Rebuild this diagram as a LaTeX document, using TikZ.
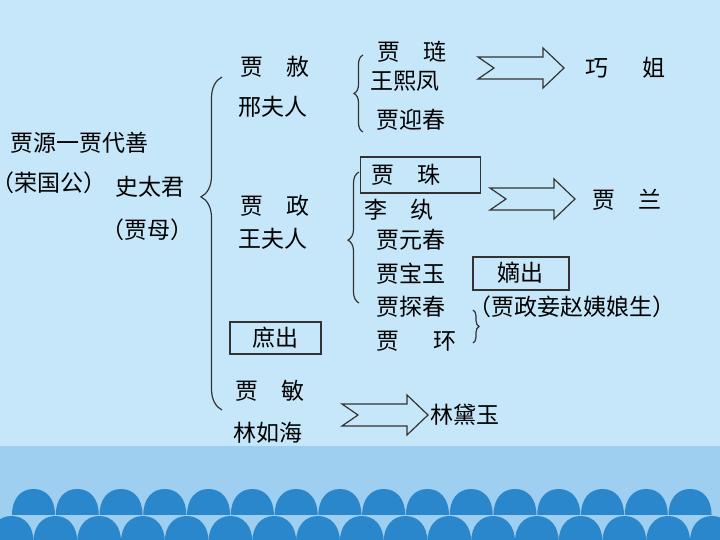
\documentclass[tikz,border=0pt]{standalone}
\usepackage{fontspec}
\setmainfont{Noto Sans CJK SC}[RawFeature=+halt]
\usetikzlibrary{calc,decorations.pathreplacing}

\definecolor{sky}{HTML}{C6E7F9}
\definecolor{band}{HTML}{9ECEF0}
\definecolor{dome}{HTML}{2B87CB}
\definecolor{linec}{HTML}{333333}

% hollow notched arrow: tail coordinate, tip coordinate
\newcommand{\hollowarrow}[2]{%
  \draw[fat] ($(#1)+(0,-11)$) -- ($(#2)+(-21,-11)$) -- ($(#2)+(-21,-20)$) -- (#2)
    -- ($(#2)+(-21,20)$) -- ($(#2)+(-21,11)$) -- ($(#1)+(0,11)$) -- ($(#1)+(16,0)$) -- cycle;}

\begin{document}
\begin{tikzpicture}[
    x=0.5pt, y=-0.5pt,
    person/.style={anchor=west, inner sep=0pt, font=\fontsize{11.5}{14}\selectfont, text height=10pt, text depth=1.5pt},
    tag/.style={person, anchor=center, draw=linec, line width=0.6pt},
    fat/.style={draw=linec, line width=0.6pt, line join=miter},
    grp/.style={decorate, draw=linec, line width=0.6pt}
]

\useasboundingbox (0,0) rectangle (720,540);
\clip (0,0) rectangle (720,540);

% Background
\fill[sky] (0,0) rectangle (720,540);
\fill[band] (0,446) rectangle (720,540);
\foreach \i in {0,...,16} {
  \pgfmathsetmacro\cx{11.6+43.77*\i}
  \fill[dome] (\cx-21.9,542) .. controls (\cx-21.9,526) and (\cx-13,516) .. (\cx,516)
    .. controls (\cx+13,516) and (\cx+21.9,526) .. (\cx+21.9,542) -- cycle;
}
\foreach \i in {0,...,15} {
  \pgfmathsetmacro\cx{33.5+43.77*\i}
  \fill[dome] (\cx-21.5,515) .. controls (\cx-21.5,499) and (\cx-13,489) .. (\cx,489)
    .. controls (\cx+13,489) and (\cx+21.5,499) .. (\cx+21.5,515) -- cycle;
}

% Ancestors
\node[person] (jiaYuan) at (10,143) {贾源一贾代善};
\node[person] (rongGuo) at (3,183) {（荣国公）};
\node[person] (shiTaiJun) at (115,187) {史太君};
\node[person] (jiaMu) at (113,230) {（贾母）};

% Second generation
\node[person] (jiaShe) at (240,67) {贾\quad 赦};
\node[person] (xingFuRen) at (238,107) {邢夫人};
\node[person] (jiaZheng) at (240,206) {贾\quad 政};
\node[person] (wangFuRen) at (238,239) {王夫人};
\node[tag, minimum width=45.5pt, minimum height=16pt] (shuChu) at (275.5,338) {庶出};
\node[person] (jiaMin) at (235,391) {贾\quad 敏};
\node[person] (linRuHai) at (233,433) {林如海};

% Third generation
\node[person] (jiaLian) at (377,52) {贾\quad 琏};
\node[person] (wangXiFeng) at (370,81) {王熙凤};
\node[person] (jiaYingChun) at (376,120) {贾迎春};
\node[person, draw=linec, line width=0.6pt, inner xsep=5.5pt, text width=49pt, minimum height=18pt, align=left] (jiaZhu) at (360,175) {贾\quad 珠};
\node[person] (liWan) at (364,210) {李\quad 纨};
\node[person] (jiaYuanChun) at (376,240) {贾元春};
\node[person] (jiaBaoYu) at (376,274) {贾宝玉};
\node[person] (jiaTanChun) at (376,307) {贾探春};
\node[person] (jiaHuan) at (376,341) {贾\hspace{1.5em}环};
\node[tag, minimum width=48pt, minimum height=16.5pt] (diChu) at (521,273.5) {嫡出};
\node[person] (zhaoNote) at (480,307) {（贾政妾赵姨娘生）};

% Fourth generation
\node[person] (qiaoJie) at (585,68) {巧\hspace{1.5em}姐};
\node[person] (jiaLan) at (592,200) {贾\quad 兰};
\node[person] (linDaiYu) at (430,415) {林黛玉};

% Braces
\draw[grp, decoration={brace, amplitude=10.5pt, aspect=0.64}] (222,410) -- (222,77);
\draw[grp, decoration={brace, amplitude=4.5pt, aspect=0.5}] (363,132) -- (363,55);
\draw[grp, decoration={brace, amplitude=5.5pt, aspect=0.48}] (359,303) -- (359,172);
\draw[grp, decoration={brace, amplitude=3pt, aspect=0.5}] (473,310) -- (473,343);

% Arrows
\coordinate (tailA) at (478,68);
\coordinate (tipA) at (564,68);
\coordinate (tailB) at (490,199);
\coordinate (tipB) at (575,199);
\coordinate (tailC) at (342,415);
\coordinate (tipC) at (428,415);
\hollowarrow{tailA}{tipA}
\hollowarrow{tailB}{tipB}
\hollowarrow{tailC}{tipC}

\end{tikzpicture}
\end{document}
